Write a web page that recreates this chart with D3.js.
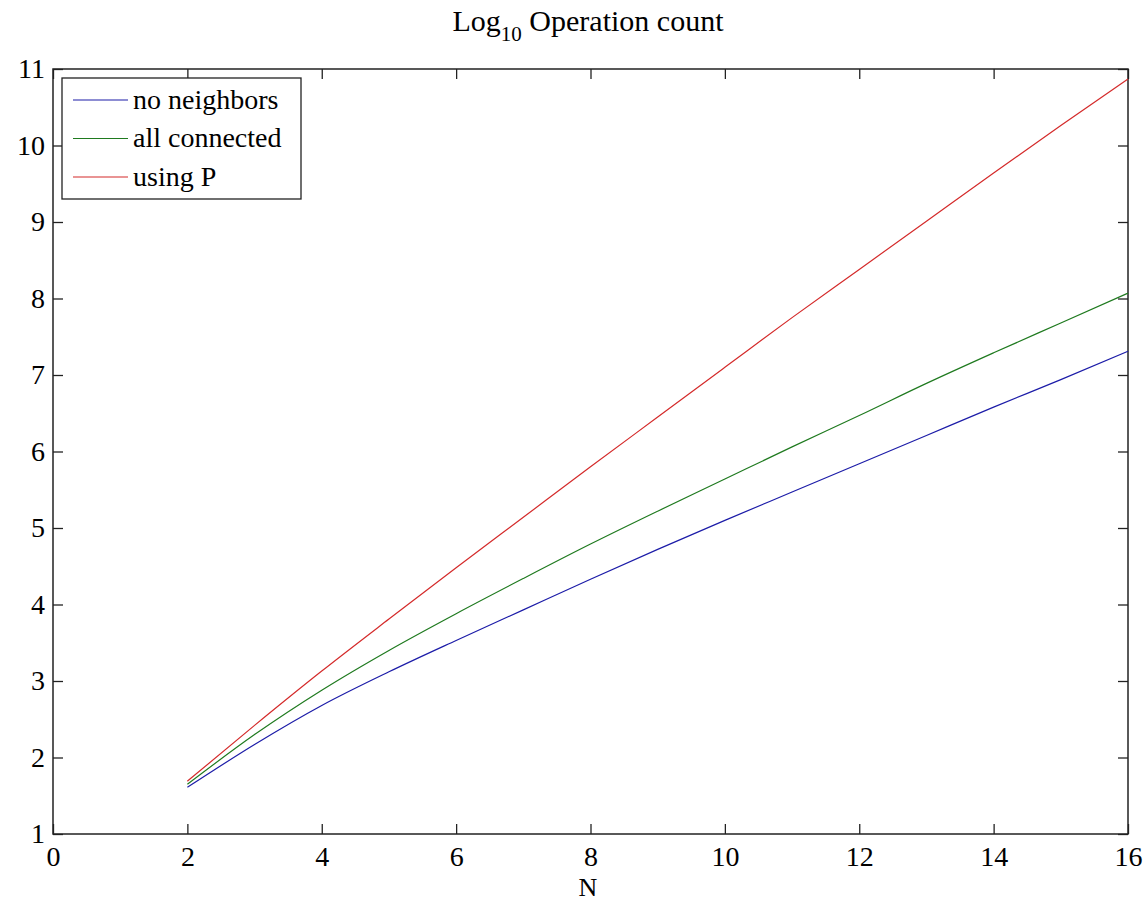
<!DOCTYPE html>
<html>
<head>
<meta charset="utf-8">
<script src="https://cdn.jsdelivr.net/npm/d3@7"></script>
<style>
  body { margin: 0; background: #fff; }
</style>
</head>
<body>
<svg id="chart"></svg>
<script>
const N = [2, 3, 4, 5, 6, 7, 8, 9, 10, 11, 12, 13, 14, 15, 16];
const noNeighbors = [1.61, 2.17, 2.68, 3.12, 3.53, 3.93, 4.33, 4.72, 5.1, 5.47, 5.84, 6.21, 6.58, 6.94, 7.31];
const allConnected = [1.65, 2.3, 2.88, 3.4, 3.88, 4.34, 4.79, 5.22, 5.64, 6.06, 6.47, 6.89, 7.29, 7.68, 8.07];
const usingP = [1.69, 2.42, 3.13, 3.81, 4.48, 5.14, 5.8, 6.45, 7.1, 7.75, 8.38, 9.01, 9.64, 10.26, 10.87];
const seriesNames = ["no neighbors", "all connected", "using P"];
const xTicks = [0, 2, 4, 6, 8, 10, 12, 14, 16];
const yTicks = [1, 2, 3, 4, 5, 6, 7, 8, 9, 10, 11];

const width = 1143;
const height = 901;
const margin = {top: 69, right: 15, bottom: 67, left: 53};
const colors = ["#1c1ca8", "#1f7a1f", "#d42a2a"];
const serif = "'Liberation Serif', 'Times New Roman', Times, serif";

const svg = d3.select("#chart")
    .attr("width", width)
    .attr("height", height)
    .style("font-family", serif);

const x = d3.scaleLinear().domain([0, 16]).range([margin.left, width - margin.right]);
const y = d3.scaleLinear().domain([1, 11]).range([height - margin.bottom, margin.top]);

// title with subscript
const title = svg.append("text")
    .attr("x", 588)
    .attr("y", 31)
    .attr("text-anchor", "middle")
    .style("font-family", serif)
    .attr("font-size", "30px");
title.append("tspan").text("Log");
title.append("tspan").attr("font-size", "21px").attr("dy", 10).text("10");
title.append("tspan").attr("dy", -10).text(" Operation count");

// axes: ticks inside on all four sides
const tickLen = 10;
svg.append("g")
    .attr("transform", `translate(0,${y(1)})`)
    .call(d3.axisBottom(x).tickValues(xTicks).tickSize(-tickLen).tickPadding(12).tickFormat(d3.format("d")))
    .call(g => g.select(".domain").remove());

svg.append("g")
    .attr("transform", `translate(0,${y(11)})`)
    .call(d3.axisTop(x).tickValues(xTicks).tickSize(-tickLen).tickFormat(""))
    .call(g => g.select(".domain").remove());

svg.append("g")
    .attr("transform", `translate(${x(0)},0)`)
    .call(d3.axisLeft(y).tickValues(yTicks).tickSize(-tickLen).tickPadding(8).tickFormat(d3.format("d")))
    .call(g => g.select(".domain").remove());

svg.append("g")
    .attr("transform", `translate(${x(16)},0)`)
    .call(d3.axisRight(y).tickValues(yTicks).tickSize(-tickLen).tickFormat(""))
    .call(g => g.select(".domain").remove());

svg.selectAll(".tick text")
    .attr("font-size", "28px")
    .attr("fill", "#000")
    .style("font-family", serif);
svg.selectAll(".tick line").attr("stroke", "#222").attr("stroke-width", 1.3);

svg.append("rect")
    .attr("x", x(0))
    .attr("y", y(11))
    .attr("width", x(16) - x(0))
    .attr("height", y(1) - y(11))
    .attr("fill", "none")
    .attr("stroke", "#222")
    .attr("stroke-width", 1.5);

// x label
svg.append("text")
    .attr("x", 588)
    .attr("y", 896)
    .attr("text-anchor", "middle")
    .style("font-family", serif)
    .attr("font-size", "26px")
    .text("N");

// lines
const line = d3.line()
    .x((d, i) => x(N[i]))
    .y(d => y(d))
    .curve(d3.curveMonotoneX);

[noNeighbors, allConnected, usingP].forEach((vals, i) => {
    svg.append("path")
        .datum(vals)
        .attr("d", line)
        .attr("fill", "none")
        .attr("stroke", colors[i])
        .attr("stroke-width", 1.2);
});

// legend
const legend = svg.append("g");
legend.append("rect")
    .attr("x", 62).attr("y", 78)
    .attr("width", 239).attr("height", 121)
    .attr("fill", "#fff")
    .attr("stroke", "#222")
    .attr("stroke-width", 1.3);

seriesNames.forEach((name, i) => {
    const ly = 100 + i * 38.5;
    legend.append("line")
        .attr("x1", 73).attr("x2", 128)
        .attr("y1", ly).attr("y2", ly)
        .attr("stroke", colors[i])
        .attr("stroke-width", 1.2);
    legend.append("text")
        .attr("x", 133)
        .attr("y", ly)
        .attr("dy", "0.32em")
        .style("font-family", serif)
        .attr("font-size", "28px")
        .text(name);
});
</script>
</body>
</html>
